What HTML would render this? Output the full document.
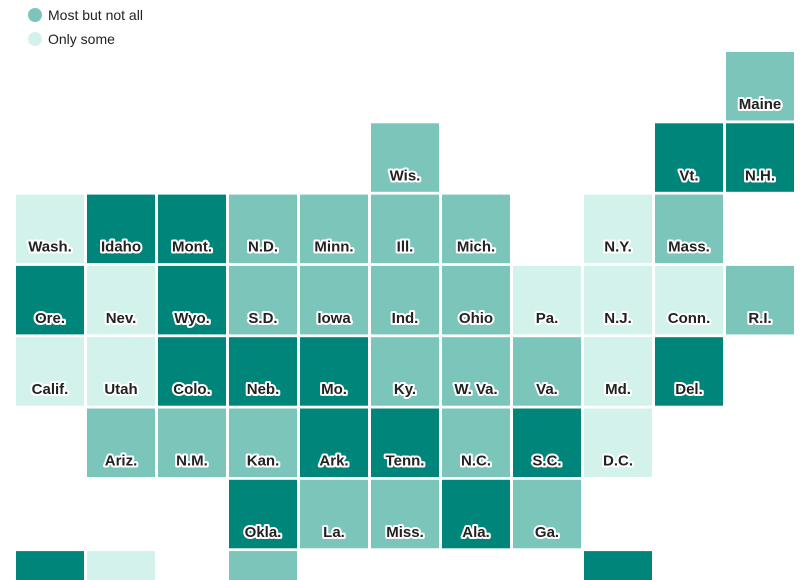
<!DOCTYPE html>
<html style="overflow:hidden"><head><meta charset="utf-8"><style>
html,body{margin:0;padding:0;background:#fff;width:810px;height:580px;overflow:hidden}
svg{display:block}
svg text{font-family:"Liberation Sans",sans-serif}
.l{font-weight:bold;font-size:15px;fill:#222;stroke:#fff;stroke-width:4px;stroke-linejoin:round;paint-order:stroke;text-anchor:middle}
.g{font-size:14px;fill:#222}
</style></head><body>
<svg width="810" height="580" id="s">
<circle cx="35" cy="15" r="7" fill="#7cc5bb"/><text class="g" x="48" y="20">Most but not all</text>
<circle cx="35" cy="39" r="7" fill="#d4f2ec"/><text class="g" x="48" y="44">Only some</text>
</svg>
<script>
var C={d:"#00857a",m:"#7cc5bb",l:"#d4f2ec"};
var cells=[
[0,10,"m","Maine"],
[1,5,"m","Wis."],[1,9,"d","Vt."],[1,10,"d","N.H."],
[2,0,"l","Wash."],[2,1,"d","Idaho"],[2,2,"d","Mont."],[2,3,"m","N.D."],[2,4,"m","Minn."],[2,5,"m","Ill."],[2,6,"m","Mich."],[2,8,"l","N.Y."],[2,9,"m","Mass."],
[3,0,"d","Ore."],[3,1,"l","Nev."],[3,2,"d","Wyo."],[3,3,"m","S.D."],[3,4,"m","Iowa"],[3,5,"m","Ind."],[3,6,"m","Ohio"],[3,7,"l","Pa."],[3,8,"l","N.J."],[3,9,"l","Conn."],[3,10,"m","R.I."],
[4,0,"l","Calif."],[4,1,"l","Utah"],[4,2,"d","Colo."],[4,3,"d","Neb."],[4,4,"d","Mo."],[4,5,"m","Ky."],[4,6,"m","W. Va."],[4,7,"m","Va."],[4,8,"l","Md."],[4,9,"d","Del."],
[5,1,"m","Ariz."],[5,2,"m","N.M."],[5,3,"m","Kan."],[5,4,"d","Ark."],[5,5,"d","Tenn."],[5,6,"m","N.C."],[5,7,"d","S.C."],[5,8,"l","D.C."],
[6,3,"d","Okla."],[6,4,"m","La."],[6,5,"m","Miss."],[6,6,"d","Ala."],[6,7,"m","Ga."],
[7,0,"d",""],[7,1,"l",""],[7,3,"m",""],[7,8,"d",""]];
var s=document.getElementById("s"),h="";
cells.forEach(function(c){var x=16+71*c[1],y=52+71.3*c[0];
var hh=Math.min(68.5,580-y);
h+='<rect x="'+x+'" y="'+y.toFixed(1)+'" width="68" height="'+hh.toFixed(1)+'" fill="'+C[c[2]]+'"/>';
if(c[3])h+='<text class="l" x="'+(x+34)+'" y="'+(y+57).toFixed(1)+'">'+c[3]+'</text>';});
s.insertAdjacentHTML("beforeend",h);
</script>
</body></html>
